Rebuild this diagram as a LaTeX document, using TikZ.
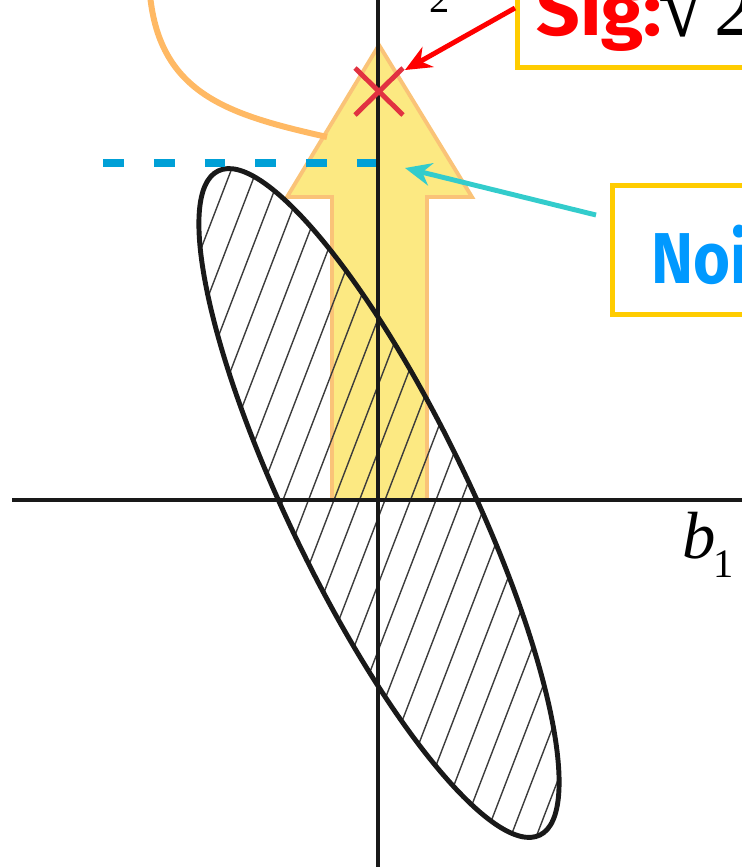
\documentclass[tikz,border=0pt]{standalone}
\usepackage{fontspec}
\newfontfamily\comic{Fira Sans}
\newfontfamily\timesf{Liberation Serif}
\usetikzlibrary{arrows.meta}
\definecolor{arrowyellow}{RGB}{252,233,130}
\definecolor{arrowedge}{RGB}{250,195,120}
\definecolor{curveorange}{RGB}{255,185,100}
\definecolor{dashblue}{RGB}{0,160,215}
\definecolor{xred}{RGB}{225,50,65}
\definecolor{sigred}{RGB}{255,0,0}
\definecolor{noiseblue}{RGB}{0,153,255}
\definecolor{boxgold}{RGB}{255,204,0}
\definecolor{cyanline}{RGB}{51,204,204}
\definecolor{hatchgray}{RGB}{60,60,60}
\tikzset{
  axisline/.style={line width=2.6pt, black!90},
  ellipseline/.style={line width=2.8pt, black!90},
  hatchline/.style={line width=0.8pt, hatchgray},
  bigarrow/.style={fill=arrowyellow, draw=arrowedge, line width=2.2pt, line join=miter},
  labelbox/.style={draw=boxgold, line width=2.8pt, inner sep=0pt},
  pointer/.style={line width=2.8pt, -{Stealth[length=15pt, width=13pt]}},
  bigtext/.style={inner sep=0pt, font=\comic\bfseries\fontsize{41pt}{46pt}\selectfont},
  serifbig/.style={inner sep=0pt, font=\timesf\fontsize{38pt}{42pt}\selectfont},
  serifsub/.style={inner sep=0pt, font=\timesf\fontsize{23pt}{26pt}\selectfont},
}
\begin{document}
\begin{tikzpicture}[x=0.02cm,y=0.02cm]
\useasboundingbox (0,0) rectangle (742,-867);

% yellow arrow
\draw[bigarrow] (379,-45) -- (472,-197) -- (427,-197) -- (427,-500) -- (332,-500) -- (332,-197) -- (287,-197) -- cycle;

% hatching inside ellipse
\begin{scope}
  \clip[rotate around={-64.16:(379,-503)}] (379,-503) ellipse [x radius=369, y radius=90];
  \foreach \i in {-13,...,13} {
    \pgfmathsetmacro{\xc}{385+25.5*\i}
    \draw[hatchline] (\xc-143.4,-500-373.4) -- (\xc+143.4,-500+373.4);
  }
\end{scope}
\draw[ellipseline, rotate around={-64.16:(379,-503)}] (379,-503) ellipse [x radius=369, y radius=90];

% orange curve
\coordinate (ctop) at (150,5);
\coordinate (cend) at (327,-137);
\draw[curveorange, line width=3.4pt] (ctop) .. controls (160,-95) and (230,-115) .. (cend);

% blue dashed level
\coordinate (dl) at (103,-163);
\coordinate (dr) at (379,-163);
\draw[dashblue, line width=4.6pt, dash pattern=on 11.9pt off 17pt] (dl) -- (dr);

% axes
\coordinate (xl) at (12,-500);
\coordinate (xr) at (760,-500);
\coordinate (yt) at (378,10);
\coordinate (yb) at (378,-880);
\draw[axisline] (xl) -- (xr);
\draw[axisline] (yt) -- (yb);

% axis labels
\node[serifbig, anchor=base west] (b1) at (682,-558) {\itshape b};
\node[serifsub, anchor=base west] (b1sub) at (713,-577) {1};
\node[serifbig, anchor=base west] (b2) at (398,7) {\itshape b};
\node[serifsub, anchor=base west] (b2sub) at (429,-12) {2};

% red cross
\coordinate (xa) at (355,-68);
\coordinate (xb) at (403,-115);
\coordinate (xc) at (355,-115);
\coordinate (xd) at (403,-68);
\draw[xred, line width=2.8pt] (xa) -- (xb);
\draw[xred, line width=2.8pt] (xc) -- (xd);

% boxes
\node[labelbox, anchor=south west, minimum width=6cm, minimum height=2.4cm] (sigbox) at (515,-70) {};
\node[labelbox, anchor=north west, minimum width=4cm, minimum height=2.58cm] (noisebox) at (610,-183) {};
\node[bigtext, anchor=base west, text=sigred] (sigtext) at (536,-35) {\scalebox{1.06}[1]{Sig:}};
\node[serifbig, anchor=base west, font=\timesf\fontsize{50pt}{54pt}\selectfont] (sigroot) at (658,-36) {√};
\node[serifbig, anchor=base west, font=\timesf\fontsize{46pt}{50pt}\selectfont] (sigtwo) at (714,-35) {2};
\node[bigtext, anchor=base west, text=noiseblue] (noisetext) at (651,-283) {\scalebox{0.88}[1]{Noise}};

% pointers
\coordinate (sigstart) at (515,-8);
\coordinate (sigend) at (405,-70);
\draw[pointer, sigred] (sigstart) -- (sigend);
\coordinate (noisestart) at (596,-215);
\coordinate (noiseend) at (405,-168);
\draw[pointer, cyanline] (noisestart) -- (noiseend);
\end{tikzpicture}
\end{document}
